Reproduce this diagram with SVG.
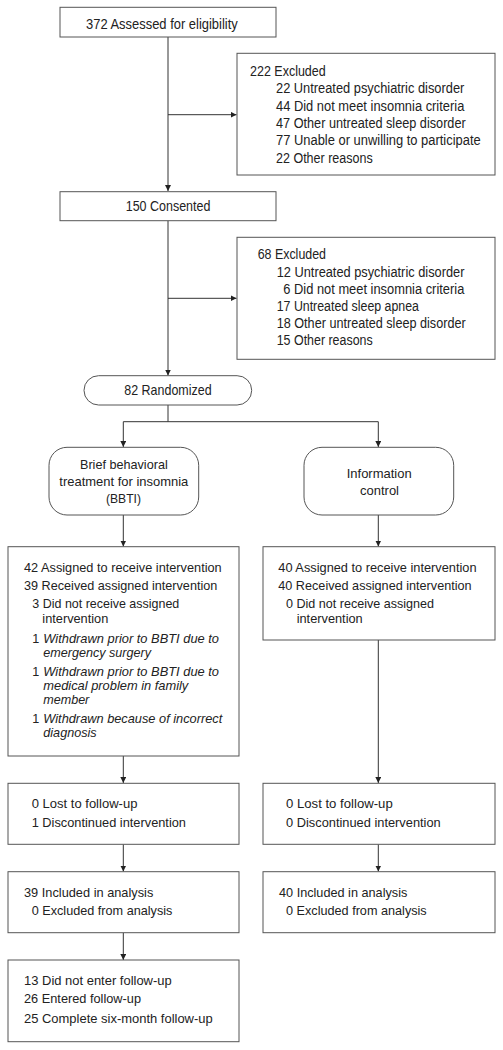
<svg xmlns="http://www.w3.org/2000/svg" width="503" height="1050" viewBox="0 0 503 1050">
<style>
text{font-family:"Liberation Sans",Arial,sans-serif;font-size:14px;fill:#222}
.t{font-size:14.8px}
.m{font-size:13px}
.s{font-size:12.6px}
.i{font-style:italic;font-size:12.2px}
.box{fill:#fff;stroke:#555;stroke-width:1}
.ln{fill:none;stroke:#333;stroke-width:1}
</style>
<defs>
<marker id="ah" markerUnits="userSpaceOnUse" markerWidth="7" markerHeight="7" refX="6" refY="3" orient="auto"><path d="M0,0 L6,3 L0,6 z" fill="#222"/></marker>
</defs>
<rect width="503" height="1050" fill="#fff"/>
<g id="connectors">
<path class="ln" d="M168,37 V191" marker-end="url(#ah)"/>
<path class="ln" d="M168,114.7 H236.5" marker-end="url(#ah)"/>
<path class="ln" d="M168,220.7 V375.5" marker-end="url(#ah)"/>
<path class="ln" d="M168,298.3 H236.5" marker-end="url(#ah)"/>
<path class="ln" d="M168,405 V421.7 M123.3,421.7 H378.3"/>
<path class="ln" d="M123.3,421.7 V447" marker-end="url(#ah)"/>
<path class="ln" d="M378.3,421.7 V447" marker-end="url(#ah)"/>
<path class="ln" d="M123.3,515 V546.5" marker-end="url(#ah)"/>
<path class="ln" d="M378.3,515 V546.5" marker-end="url(#ah)"/>
<path class="ln" d="M123.3,756 V783" marker-end="url(#ah)"/>
<path class="ln" d="M378.3,640 V783" marker-end="url(#ah)"/>
<path class="ln" d="M123.3,844.3 V871.5" marker-end="url(#ah)"/>
<path class="ln" d="M378.3,844.3 V871.5" marker-end="url(#ah)"/>
<path class="ln" d="M123.3,932.7 V960" marker-end="url(#ah)"/>
</g>
<g id="assessed">
<rect class="box" x="60" y="7.3" width="216" height="29.7"/>
<text class="t" x="86" y="28.5" textLength="151.7" lengthAdjust="spacingAndGlyphs">372 Assessed for eligibility</text>
</g>
<g id="excluded1">
<rect class="box" x="237" y="53.3" width="258" height="121.7"/>
<text x="250" y="76" textLength="75.7" lengthAdjust="spacingAndGlyphs">222 Excluded</text>
<text x="276" y="93.3" textLength="188.3" lengthAdjust="spacingAndGlyphs">22 Untreated psychiatric disorder</text>
<text x="276" y="110.7" textLength="188.3" lengthAdjust="spacingAndGlyphs">44 Did not meet insomnia criteria</text>
<text x="276" y="128" textLength="189.7" lengthAdjust="spacingAndGlyphs">47 Other untreated sleep disorder</text>
<text x="276" y="145.3" textLength="204.7" lengthAdjust="spacingAndGlyphs">77 Unable or unwilling to participate</text>
<text x="276" y="162.5" textLength="96.7" lengthAdjust="spacingAndGlyphs">22 Other reasons</text>
</g>
<g id="consented">
<rect class="box" x="60" y="191.7" width="216" height="29"/>
<text class="t" x="125.7" y="211" textLength="84.7" lengthAdjust="spacingAndGlyphs">150 Consented</text>
</g>
<g id="excluded2">
<rect class="box" x="237" y="237.3" width="258" height="122"/>
<text x="257.7" y="259.3" textLength="68.3" lengthAdjust="spacingAndGlyphs">68 Excluded</text>
<text x="276.7" y="276.7" textLength="187.7" lengthAdjust="spacingAndGlyphs">12 Untreated psychiatric disorder</text>
<text x="283.3" y="294" textLength="181" lengthAdjust="spacingAndGlyphs">6 Did not meet insomnia criteria</text>
<text x="276.7" y="311" textLength="142.3" lengthAdjust="spacingAndGlyphs">17 Untreated sleep apnea</text>
<text x="276.7" y="328.3" textLength="189" lengthAdjust="spacingAndGlyphs">18 Other untreated sleep disorder</text>
<text x="276.7" y="345.3" textLength="96" lengthAdjust="spacingAndGlyphs">15 Other reasons</text>
</g>
<g id="randomized">
<rect class="box" x="84" y="375.7" width="167.7" height="29.3" rx="14.6"/>
<text class="t" x="124.3" y="395" textLength="87.3" lengthAdjust="spacingAndGlyphs">82 Randomized</text>
</g>
<g id="bbti">
<rect class="box" x="49" y="447.3" width="149.7" height="67.7" rx="18"/>
<text class="m" x="80" y="469" textLength="87.7" lengthAdjust="spacingAndGlyphs">Brief behavioral</text>
<text class="m" x="59.3" y="485.7" textLength="129" lengthAdjust="spacingAndGlyphs">treatment for insomnia</text>
<text class="m" x="106" y="503.3" textLength="35" lengthAdjust="spacingAndGlyphs">(BBTI)</text>
</g>
<g id="info">
<rect class="box" x="304" y="447.3" width="149.7" height="67.7" rx="18"/>
<text class="m" x="346.7" y="478.3" textLength="65" lengthAdjust="spacingAndGlyphs">Information</text>
<text class="m" x="360" y="495" textLength="39" lengthAdjust="spacingAndGlyphs">control</text>
</g>
<g id="alloc-left">
<rect class="box" x="8" y="546.7" width="231" height="209.3"/>
<text class="s" x="24" y="571.7" textLength="197.7" lengthAdjust="spacingAndGlyphs">42 Assigned to receive intervention</text>
<text class="s" x="24" y="590" textLength="193.3" lengthAdjust="spacingAndGlyphs">39 Received assigned intervention</text>
<text class="s" x="32.3" y="608.3" textLength="147" lengthAdjust="spacingAndGlyphs">3 Did not receive assigned</text>
<text class="s" x="42.3" y="623.3" textLength="66" lengthAdjust="spacingAndGlyphs">intervention</text>
<text class="s" x="32.3" y="643">1</text>
<text class="i" x="43.3" y="643" textLength="175.7" lengthAdjust="spacingAndGlyphs">Withdrawn prior to BBTI due to</text>
<text class="i" x="43.3" y="656.7" textLength="107.7" lengthAdjust="spacingAndGlyphs">emergency surgery</text>
<text class="s" x="32.3" y="676">1</text>
<text class="i" x="43.3" y="676" textLength="175.7" lengthAdjust="spacingAndGlyphs">Withdrawn prior to BBTI due to</text>
<text class="i" x="43.3" y="690" textLength="145" lengthAdjust="spacingAndGlyphs">medical problem in family</text>
<text class="i" x="43.3" y="704.3" textLength="46" lengthAdjust="spacingAndGlyphs">member</text>
<text class="s" x="32.3" y="723.3">1</text>
<text class="i" x="43.3" y="723.3" textLength="179" lengthAdjust="spacingAndGlyphs">Withdrawn because of incorrect</text>
<text class="i" x="43.3" y="737.3" textLength="53.3" lengthAdjust="spacingAndGlyphs">diagnosis</text>
</g>
<g id="alloc-right">
<rect class="box" x="263" y="546.7" width="232" height="93.3"/>
<text class="s" x="278.3" y="571.7" textLength="198.3" lengthAdjust="spacingAndGlyphs">40 Assigned to receive intervention</text>
<text class="s" x="278.3" y="590" textLength="193.3" lengthAdjust="spacingAndGlyphs">40 Received assigned intervention</text>
<text class="s" x="286" y="608.3" textLength="148" lengthAdjust="spacingAndGlyphs">0 Did not receive assigned</text>
<text class="s" x="296.7" y="623.3" textLength="66" lengthAdjust="spacingAndGlyphs">intervention</text>
</g>
<g id="follow-left">
<rect class="box" x="8" y="783.3" width="231" height="61"/>
<text class="s" x="31.7" y="808.3" textLength="105.7" lengthAdjust="spacingAndGlyphs">0 Lost to follow-up</text>
<text class="s" x="31.7" y="826.7" textLength="154.3" lengthAdjust="spacingAndGlyphs">1 Discontinued intervention</text>
</g>
<g id="follow-right">
<rect class="box" x="263" y="783.3" width="232" height="61"/>
<text class="s" x="286" y="808.3" textLength="106.7" lengthAdjust="spacingAndGlyphs">0 Lost to follow-up</text>
<text class="s" x="286" y="826.7" textLength="154.7" lengthAdjust="spacingAndGlyphs">0 Discontinued intervention</text>
</g>
<g id="analysis-left">
<rect class="box" x="8" y="871.7" width="231" height="61"/>
<text class="s" x="24" y="896.7" textLength="129.3" lengthAdjust="spacingAndGlyphs">39 Included in analysis</text>
<text class="s" x="31.7" y="915" textLength="140.7" lengthAdjust="spacingAndGlyphs">0 Excluded from analysis</text>
</g>
<g id="analysis-right">
<rect class="box" x="263" y="871.7" width="232" height="61"/>
<text class="s" x="279" y="896.7" textLength="128.3" lengthAdjust="spacingAndGlyphs">40 Included in analysis</text>
<text class="s" x="286" y="915" textLength="140.7" lengthAdjust="spacingAndGlyphs">0 Excluded from analysis</text>
</g>
<g id="sixmonth-left">
<rect class="box" x="8" y="960" width="231" height="81.7"/>
<text class="s" x="24" y="985" textLength="147.7" lengthAdjust="spacingAndGlyphs">13 Did not enter follow-up</text>
<text class="s" x="24" y="1003.3" textLength="117" lengthAdjust="spacingAndGlyphs">26 Entered follow-up</text>
<text class="s" x="24" y="1022.7" textLength="188.7" lengthAdjust="spacingAndGlyphs">25 Complete six-month follow-up</text>
</g>
</svg>
